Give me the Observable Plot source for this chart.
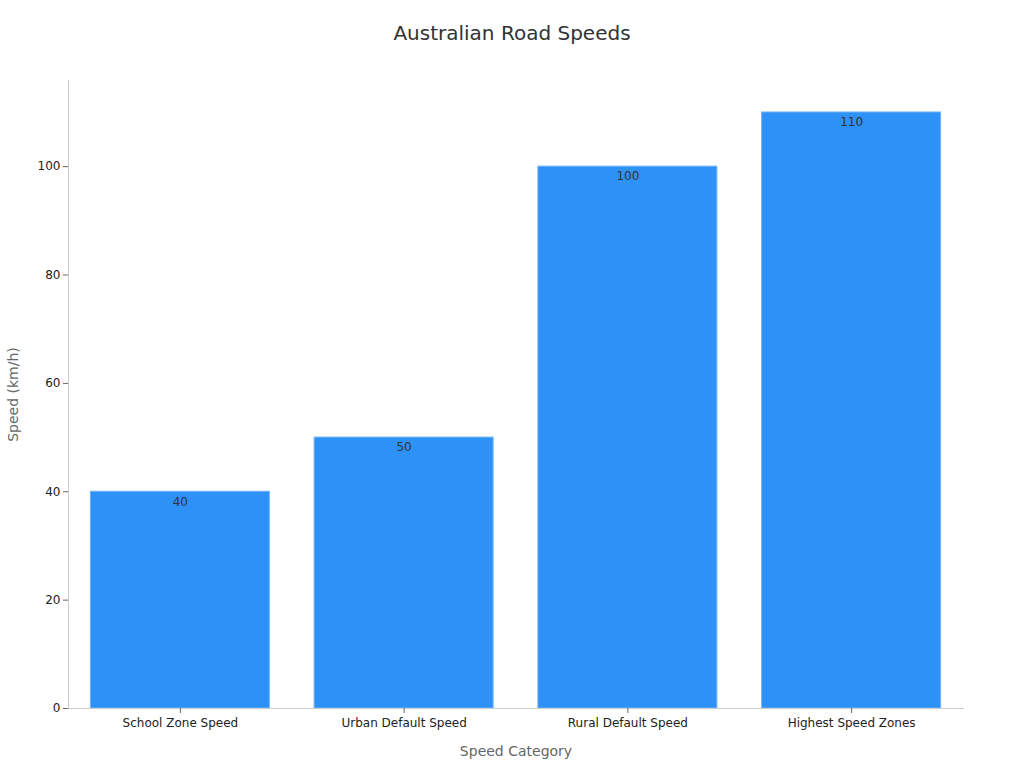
<!DOCTYPE html>
<html>
<head>
<meta charset="utf-8">
<script src="https://cdn.jsdelivr.net/npm/d3@7"></script>
<script src="https://cdn.jsdelivr.net/npm/@observablehq/plot@0.6"></script>
<style>
  body { margin: 0; background: #fff; font-family: "DejaVu Sans", sans-serif; }
  #title { height: 66px; line-height: 66px; text-align: center; font-size: 20px; color: #333; }
</style>
</head>
<body>
<div id="title">Australian Road Speeds</div>
<div id="chart"></div>
<script>
const categories = ["School Zone Speed", "Urban Default Speed", "Rural Default Speed", "Highest Speed Zones"];
const speeds = [40, 50, 100, 110];
const yTicks = [0, 20, 40, 60, 80, 100];

const data = categories.map((c, i) => ({category: c, speed: speeds[i]}));

const chart = Plot.plot({
  width: 1024,
  height: 702,
  marginTop: 14,
  marginBottom: 60,
  marginLeft: 68,
  marginRight: 61,
  style: {fontFamily: "DejaVu Sans, sans-serif", fontSize: "12px", color: "#333", background: "#fff"},
  x: {domain: categories, paddingInner: 0.2, paddingOuter: 0.1, round: false},
  y: {domain: [0, 115.9]},
  marks: [
    Plot.barY(data, {x: "category", y: "speed", fill: "#2e91f7", stroke: "#6fb3f9", strokeWidth: 1}),
    Plot.text(data, {x: "category", y: "speed", text: d => String(d.speed), dy: 10, fill: "#333", fontSize: 12}),
    Plot.frame({anchor: "left", stroke: "#ccc"}),
    Plot.frame({anchor: "bottom", stroke: "#ccc"}),
    Plot.axisY({ticks: yTicks, tickSize: 5, stroke: "#666", fill: "#222", tickPadding: 3, fontSize: 12,
      label: "Speed (km/h)", labelAnchor: "center", labelArrow: "none", labelOffset: 60}),
    Plot.axisX({tickSize: 5, stroke: "#666", fill: "#222", tickPadding: 5, fontSize: 12,
      label: "Speed Category", labelAnchor: "center", labelArrow: "none", labelOffset: 47})
  ]
});
document.getElementById("chart").appendChild(chart);
// style axis labels
chart.querySelectorAll("g[aria-label='y-axis label'] text, g[aria-label='x-axis label'] text").forEach(t => {
  t.setAttribute("fill", "#666");
  t.style.fontSize = "14px";
});
</script>
</body>
</html>
